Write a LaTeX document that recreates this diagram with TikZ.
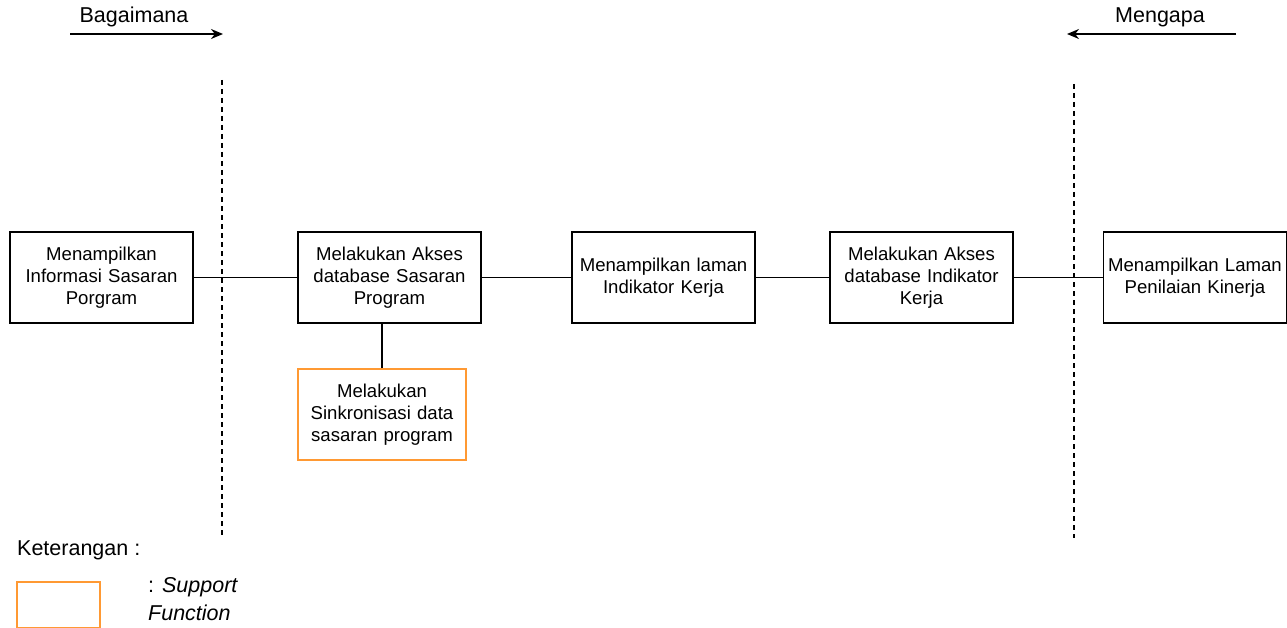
\documentclass[tikz,border=0pt]{standalone}
\usepackage{fontspec}
\setmainfont{Liberation Sans}
\usetikzlibrary{arrows.meta}
\definecolor{supportorange}{RGB}{255,153,51}
\begin{document}
\begin{tikzpicture}[x=1bp,y=-1bp,
  every node/.style={inner sep=0pt},
  boxtext/.style={font=\fontsize{18.6bp}{22bp}\selectfont},
  labeltext/.style={font=\fontsize{21.5bp}{28bp}\selectfont},
  procbox/.style={boxtext, draw=black, line width=1.5bp, minimum width=183bp, minimum height=91bp, align=center, text width=183bp},
  supportbox/.style={boxtext, draw=supportorange, line width=1.5bp, minimum width=168bp, minimum height=91bp, align=center, text width=165bp},
  link/.style={line width=1.4bp},
  divider/.style={line width=1.3bp, dash pattern=on 5bp off 4bp},
  flowarrow/.style={line width=1.6bp, -{Stealth[length=12bp,width=10bp]}}]
\useasboundingbox (0,0) rectangle (1287,628);

% process boxes
\node[procbox] (p1) at (101.5,277.5) {Menampilkan\\Informasi Sasaran\\Porgram};
\node[procbox] (p2) at (389.5,277.5) {Melakukan Akses\\database Sasaran\\Program};
\node[procbox] (p3) at (663.5,277.5) {Menampilkan laman\\Indikator Kerja};
\node[procbox] (p4) at (921.5,277.5) {Melakukan Akses\\database Indikator\\Kerja};
\node[procbox] (p5) at (1195,277.5) {Menampilkan Laman\\Penilaian Kinerja};
\node[supportbox] (s1) at (382,414.5) {Melakukan\\Sinkronisasi data\\sasaran program};

% links between boxes
\draw[link] (p1) -- (p2);
\draw[link] (p2) -- (p3);
\draw[link] (p3) -- (p4);
\draw[link] (p4) -- (p5);
\draw[link] (s1.north) -- (s1.north |- p2.south);

% dashed dividers
\coordinate (d1t) at (222,80);
\coordinate (d1b) at (222,535);
\coordinate (d2t) at (1074,84);
\coordinate (d2b) at (1074,538);
\draw[divider] (d1t) -- (d1b);
\draw[divider] (d2t) -- (d2b);

% direction arrows
\coordinate (a1s) at (70,34);
\coordinate (a1e) at (223,34);
\coordinate (a2s) at (1236,34);
\coordinate (a2e) at (1067,34);
\draw[flowarrow] (a1s) -- (a1e);
\draw[flowarrow] (a2s) -- (a2e);
\node[labeltext] (howlbl) at (134,17) {Bagaimana};
\node[labeltext] (whylbl) at (1160,17) {Mengapa};

% legend
\node[labeltext, anchor=west] (leg) at (17,550) {Keterangan :};
\node[draw=supportorange, line width=1.5bp, minimum width=83bp, minimum height=46bp] (legbox) at (58.5,605) {};
\node[labeltext, anchor=north west, align=left] (legtxt) at (148,577) {: \textit{Support}\\\textit{Function}};
\end{tikzpicture}
\end{document}
